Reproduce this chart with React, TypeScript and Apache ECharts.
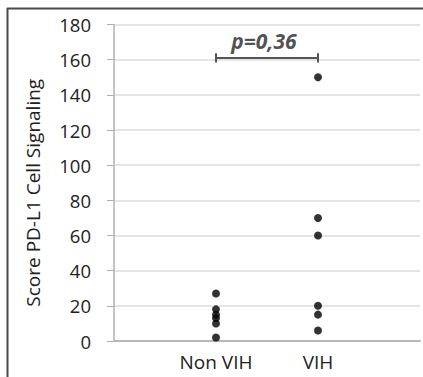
import React, { useEffect, useRef } from "react";
import * as echarts from "echarts";

const categories = ["Non VIH", "VIH"];
const nonVihValues = [27, 18, 15, 13, 10, 2];
const vihValues = [150, 70, 60, 20, 15, 6];
const yTicks = { min: 0, max: 180, interval: 20 };
const pLabel = "p=0,36";
const bracketY = 161;
const bracketCap = 2.6;
const pLabelPos = [1.47, 170.5];

export default function App() {
  const ref = useRef<HTMLDivElement>(null);
  useEffect(() => {
    if (!ref.current) return;
    const chart = echarts.init(ref.current, undefined, { renderer: "svg" });
    const font = "'Open Sans', 'Noto Sans', sans-serif";
    const option = {
      animation: false,
      backgroundColor: "#fff",
      grid: { left: 114, top: 24.5, right: 0, bottom: 36, containLabel: false },
      xAxis: {
        type: "value",
        min: 0,
        max: categories.length + 1,
        interval: 1,
        axisLine: { show: true, onZero: false, lineStyle: { color: "#b8b8b8", width: 2 } },
        axisTick: { show: false },
        splitLine: { show: false },
        axisLabel: {
          margin: 11,
          fontSize: 19,
          fontFamily: font,
          color: "#222",
          formatter: (v: number) => (v >= 1 && v <= categories.length ? categories[v - 1] : ""),
        },
      },
      yAxis: {
        type: "value",
        min: yTicks.min,
        max: yTicks.max,
        interval: yTicks.interval,
        name: "Score PD-L1 Cell Signaling",
        nameLocation: "middle",
        nameRotate: 90,
        nameGap: 72,
        nameTextStyle: { fontSize: 19, fontFamily: font, color: "#222", padding: [0, 20, 0, 0] },
        axisLine: { show: true, lineStyle: { color: "#b0b0b0", width: 1.5 } },
        axisTick: { show: true, length: 7, lineStyle: { color: "#b0b0b0" } },
        splitLine: { show: true, lineStyle: { color: "#dcdcdc", width: 1.5 } },
        axisLabel: { margin: 23, fontSize: 18.5, fontFamily: font, color: "#222" },
      },
      series: [
        {
          type: "scatter",
          symbol: "circle",
          symbolSize: 8,
          itemStyle: { color: "#000" },
          data: nonVihValues.map((v) => [1, v]),
        },
        {
          type: "scatter",
          symbol: "circle",
          symbolSize: 8,
          itemStyle: { color: "#000" },
          data: vihValues.map((v) => [2, v]),
        },
        {
          type: "line",
          symbol: "none",
          lineStyle: { color: "#555", width: 2 },
          data: [
            [1, bracketY + bracketCap],
            [1, bracketY - bracketCap],
            [1, bracketY],
            [2, bracketY],
            [2, bracketY + bracketCap],
            [2, bracketY - bracketCap],
          ],
        },
        {
          type: "scatter",
          symbolSize: 0,
          data: [pLabelPos],
          label: {
            show: true,
            position: "inside",
            formatter: pLabel,
            fontSize: 21,
            fontWeight: "bold",
            fontStyle: "italic",
            fontFamily: font,
            color: "#222",
          },
        },
      ],
      graphic: [
        { type: "line", shape: { x1: 7.5, y1: 8, x2: 7.5, y2: 377 }, style: { stroke: "#4a4a4a", lineWidth: 2 } },
        { type: "line", shape: { x1: 7, y1: 8.5, x2: 423, y2: 8.5 }, style: { stroke: "#4a4a4a", lineWidth: 2 } },
      ],
    };
    chart.setOption(option as any);
    return () => chart.dispose();
  }, []);
  return (
    <div
      ref={ref}
      style={{ position: "fixed", left: 0, top: 0, width: 423, height: 377 }}
    />
  );
}
